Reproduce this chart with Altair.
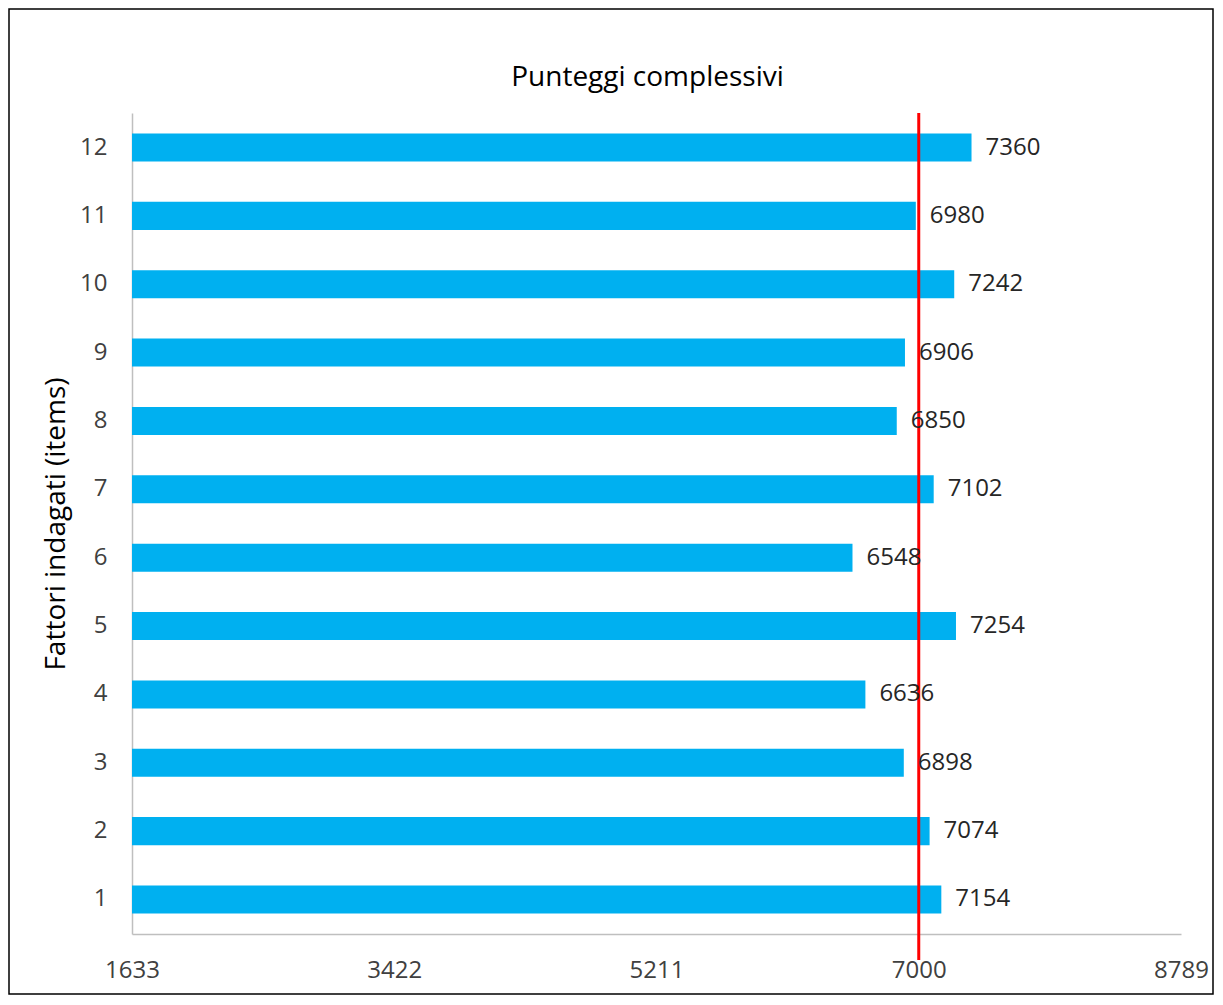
import altair as alt
import pandas as pd

items = ["1", "2", "3", "4", "5", "6", "7", "8", "9", "10", "11", "12"]
scores = [7154, 7074, 6898, 6636, 7254, 6548, 7102, 6850, 6906, 7242, 6980, 7360]
x_ticks = [1633, 3422, 5211, 7000, 8789]
threshold = 7000
title_text = "Punteggi complessivi"

df = pd.DataFrame({"item": items, "score": scores})
order = list(reversed(items))

FONT = "Open Sans"
W, H = 1049, 821

x_enc = alt.X(
    "score:Q",
    scale=alt.Scale(domain=[x_ticks[0], x_ticks[-1]], nice=False, zero=False),
    axis=alt.Axis(values=x_ticks, format="d", title=None, grid=False, ticks=False,
                  domainColor="#BFBFBF", domainWidth=1.5, labelFontSize=24,
                  labelColor="#404040", labelPadding=24, labelFont=FONT,
                  labelFlush=False),
)
y_enc = alt.Y(
    "item:N",
    sort=order,
    scale=alt.Scale(paddingInner=0.59, paddingOuter=0.3),
    axis=alt.Axis(title="Fattori indagati (items)", ticks=False, grid=False,
                  domainColor="#BFBFBF", domainWidth=1.5, labelFontSize=24,
                  labelColor="#404040", labelPadding=25, labelFont=FONT,
                  titleFontSize=28, titleFont=FONT, titleFontWeight="normal",
                  titleColor="#000000", titlePadding=9),
)

bars = alt.Chart(df).mark_bar(color="#00B0F0").encode(
    x=x_enc, x2=alt.datum(x_ticks[0]), y=y_enc
)

labels = alt.Chart(df).mark_text(
    align="left", baseline="middle", dx=14, fontSize=24, font=FONT, color="#262626"
).encode(x="score:Q", y=alt.Y("item:N", sort=order), text="score:Q")

rule = alt.Chart(pd.DataFrame({"v": [threshold]})).mark_rule(
    color="#FF0000", strokeWidth=3
).encode(x="v:Q", y=alt.value(0), y2=alt.value(H + 26))

border = alt.Chart(pd.DataFrame({"a": [0]})).mark_rect(
    filled=False, stroke="#000000", strokeWidth=1.5
).encode(x=alt.value(-123), x2=alt.value(1081), y=alt.value(-104), y2=alt.value(881))

title = alt.Chart(pd.DataFrame({"t": [title_text]})).mark_text(
    fontSize=28, font=FONT, color="#000000", align="center", baseline="middle"
).encode(x=alt.value(W / 2 - 9), y=alt.value(-35), text="t:N")

chart = alt.layer(bars, rule, labels, border, title).properties(
    width=W,
    height=H,
    autosize=alt.AutoSizeParams(type="none"),
    padding={"left": 124, "top": 105, "right": 34, "bottom": 62},
).configure(background="white", view=alt.ViewConfig(stroke=None))

chart.save("out.html", embed_options={"renderer": "svg", "actions": False})
